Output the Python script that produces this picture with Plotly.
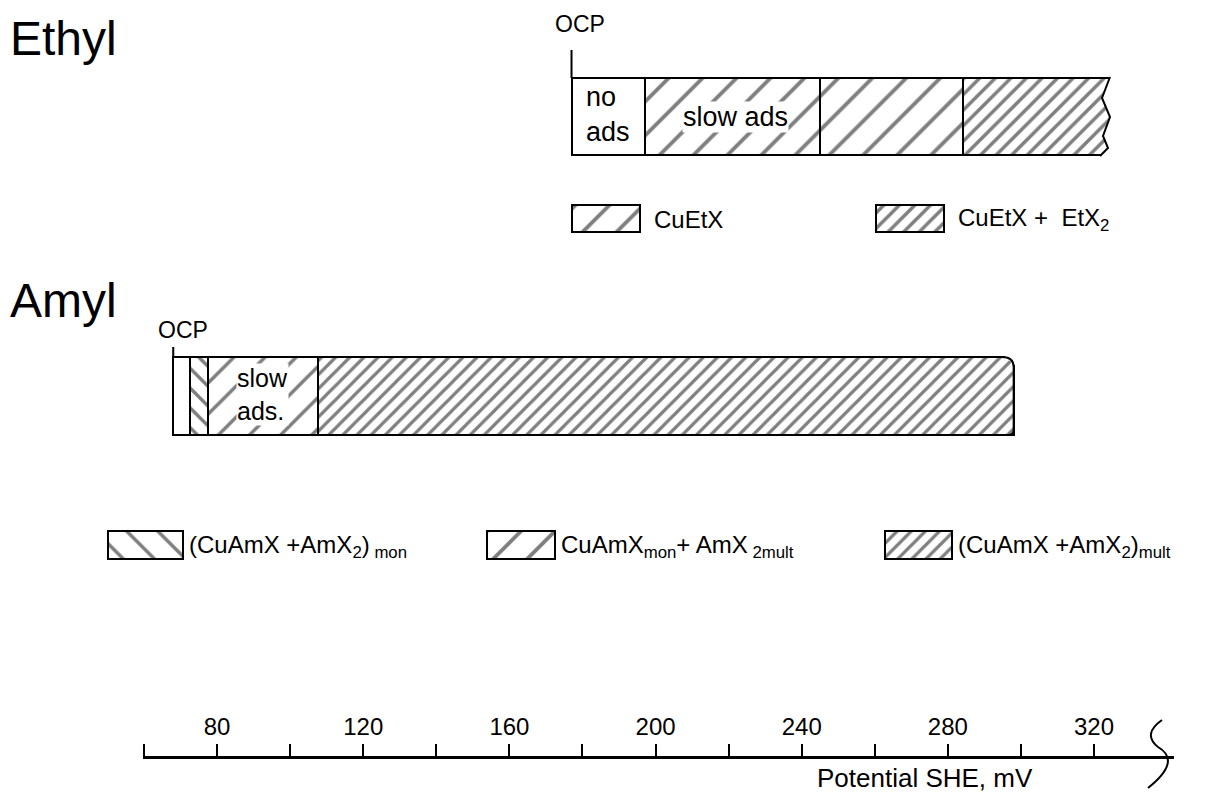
import plotly.graph_objects as go

# ---------------- data (potentials in mV vs SHE) ----------------
ethyl_labels = ["no ads", "slow ads", "CuEtX", "CuEtX + EtX2"]
ethyl_start = [177, 197, 245, 284]
ethyl_end = [197, 245, 284, 326]
ethyl_ocp = 177

amyl_labels = ["OCP", "(CuAmX + AmX2) mon", "slow ads.", "(CuAmX + AmX2) mult"]
amyl_start = [68, 72.5, 77.5, 107.5]
amyl_end = [72.5, 77.5, 107.5, 298]
amyl_ocp = 68

tick_values = [60, 80, 100, 120, 140, 160, 180, 200, 220, 240, 260, 280, 300, 320]
tick_labels = ["", "80", "", "120", "", "160", "", "200", "", "240", "", "280", "", "320"]

ethyl_legend = ["CuEtX", "CuEtX +  EtX<sub>2</sub>"]
amyl_legend = ["(CuAmX +AmX<sub>2</sub>)<sub> mon</sub>",
               "CuAmX<sub>mon</sub>+ AmX<sub> 2mult</sub>",
               "(CuAmX +AmX<sub>2</sub>)<sub>mult</sub>"]

# ---------------- layout helpers (pixel <-> mV) ----------------
W, H = 1206, 793
PX_PER_MV = 3.654
X0_PX, X0_MV = 144, 60
AXIS_Y = 759


def mv(px):
    return X0_MV + (px - X0_PX) / PX_PER_MV


FONT = "Liberation Sans, Arial, sans-serif"
fig = go.Figure()

# ---- Ethyl bar ----
fig.add_trace(go.Bar(
    orientation="h",
    y=[116.5] * len(ethyl_start), width=[77] * len(ethyl_start),
    base=ethyl_start, x=[e - s for s, e in zip(ethyl_start, ethyl_end)],
    marker=dict(color="white", line=dict(color="black", width=2),
                pattern=dict(shape=["", "/", "/", "/"], size=[10, 24, 24, 11],
                             solidity=[0.1, 0.16, 0.16, 0.32],
                             fgcolor="black", bgcolor="white")),
    hovertext=ethyl_labels, showlegend=False))

# ---- Amyl bar ----
fig.add_trace(go.Bar(
    orientation="h",
    y=[396] * len(amyl_start), width=[78] * len(amyl_start),
    base=amyl_start, x=[e - s for s, e in zip(amyl_start, amyl_end)],
    marker=dict(color="white", line=dict(color="black", width=2),
                pattern=dict(shape=["", "\\", "/", "/"], size=[10, 14, 22, 10],
                             solidity=[0.1, 0.24, 0.16, 0.32],
                             fgcolor="black", bgcolor="white")),
    hovertext=amyl_labels, showlegend=False))

# ---- Legend swatches ----
eth_sw_px = [(572, 640), (876, 944)]
fig.add_trace(go.Bar(
    orientation="h", y=[218.5, 218.5], width=[27, 27],
    base=[mv(a) for a, b in eth_sw_px], x=[mv(b) - mv(a) for a, b in eth_sw_px],
    marker=dict(color="white", line=dict(color="black", width=2),
                pattern=dict(shape=["/", "/"], size=[24, 11], solidity=[0.16, 0.32],
                             fgcolor="black", bgcolor="white")),
    hoverinfo="skip", showlegend=False))

amy_sw_px = [(108, 183), (487, 555), (885, 952)]
fig.add_trace(go.Bar(
    orientation="h", y=[545] * 3, width=[28] * 3,
    base=[mv(a) for a, b in amy_sw_px], x=[mv(b) - mv(a) for a, b in amy_sw_px],
    marker=dict(color="white", line=dict(color="black", width=2),
                pattern=dict(shape=["\\", "/", "/"], size=[22, 24, 10],
                             solidity=[0.16, 0.16, 0.32],
                             fgcolor="black", bgcolor="white")),
    hoverinfo="skip", showlegend=False))

# dummy trace for bottom axis
fig.add_trace(go.Scatter(x=[tick_values[0]], y=[0], xaxis="x2", yaxis="y2",
                         mode="markers", marker=dict(opacity=0), hoverinfo="skip",
                         showlegend=False))

shapes = []
# OCP markers
shapes.append(dict(type="line", x0=ethyl_ocp, x1=ethyl_ocp, y0=50, y1=78,
                   xref="x", yref="y", line=dict(color="black", width=2)))
shapes.append(dict(type="line", x0=amyl_ocp, x1=amyl_ocp, y0=347, y1=357,
                   xref="x", yref="y", line=dict(color="black", width=2)))
# dashed divider between slow ads and CuEtX
shapes.append(dict(type="line", x0=ethyl_end[1], x1=ethyl_end[1], y0=78, y1=155,
                   xref="x", yref="y", line=dict(color="black", width=1.5, dash="dash")))

# broken (jagged) right end of the Ethyl bar
jag = [(1110, 77), (1102, 98), (1110, 117), (1103, 136), (1108, 148), (1100, 156)]
mask = "M " + " L ".join("{:.3f},{}".format(mv(px), py) for px, py in jag)
mask += " L {:.3f},160 L {:.3f},73 Z".format(mv(1130), mv(1130))
shapes.append(dict(type="path", path=mask, xref="x", yref="y",
                   fillcolor="white", line=dict(width=0)))
jline = "M " + " L ".join("{:.3f},{}".format(mv(px), py) for px, py in jag)
shapes.append(dict(type="path", path=jline, xref="x", yref="y",
                   line=dict(color="black", width=2)))

# rounded right end of the Amyl bar
rend = amyl_end[-1]
shapes.append(dict(type="path",
                   path="M {:.3f},354 L {:.3f},354 L {:.3f},368 Z".format(
                       mv(1002), mv(1018), mv(1018)),
                   xref="x", yref="y", fillcolor="white", line=dict(width=0)))
shapes.append(dict(type="path",
                   path="M {:.3f},357 Q {:.3f},357 {:.3f},367 L {:.3f},430 Q {:.3f},435 {:.3f},435".format(
                       mv(1002), rend, rend, rend, rend, mv(1008)),
                   xref="x", yref="y", line=dict(color="black", width=2)))

# axis break squiggle
path = "M {:.3f},{} Q {:.3f},{} {:.3f},{} Q {:.3f},{} {:.3f},{}".format(
    mv(1162), 720, mv(1142), 734, mv(1158), 747,
    mv(1182), 761, mv(1148), 788)
shapes.append(dict(type="path", path=path, xref="x", yref="y",
                   line=dict(color="black", width=2)))

ann = []


def text(x, y, s, size, xanchor="left", yanchor="middle", bg=None, align="left",
         xshift=0):
    d = dict(x=x, y=y, xref="x", yref="y", text=s, showarrow=False,
             xanchor=xanchor, yanchor=yanchor, align=align, xshift=xshift,
             font=dict(family=FONT, size=size, color="black"))
    if bg:
        d["bgcolor"] = bg
        d["borderpad"] = 0
    ann.append(d)


text(mv(8), 38, "Ethyl", 48)
text(mv(8), 300, "Amyl", 48)
text(ethyl_ocp, 24, "OCP", 23, xanchor="center", xshift=8)
text(amyl_ocp, 330, "OCP", 23, xanchor="center", xshift=10)
text((ethyl_start[0] + ethyl_end[0]) / 2, 114, "no<br>ads", 27, xanchor="center")
text(mv(735), 116.5, "slow ads", 27, xanchor="center", bg="white")
text((amyl_start[2] + amyl_end[2]) / 2, 394, "slow<br>ads.", 25, xanchor="center",
     bg="white")

for (a, b), lab in zip(eth_sw_px, ethyl_legend):
    text(mv(b + 12), 219, lab, 24)
for (a, b), lab in zip(amy_sw_px, amyl_legend):
    text(mv(b + 4), 546, lab, 24)

text(mv(925), 778, "Potential SHE, mV", 26, xanchor="center")

fig.update_layout(
    width=W, height=H, margin=dict(l=0, r=0, t=0, b=0),
    paper_bgcolor="white", plot_bgcolor="white",
    barmode="overlay", bargap=0,
    shapes=shapes, annotations=ann,
    xaxis=dict(range=[mv(0), mv(W)], domain=[0, 1], visible=False, fixedrange=True),
    yaxis=dict(range=[H, 0], domain=[0, 1], visible=False, fixedrange=True),
    xaxis2=dict(anchor="y2", side="top", domain=[143 / W, 1174 / W],
                range=[mv(143), mv(1174)], tickvals=tick_values, ticktext=tick_labels,
                ticks="outside", ticklen=12, tickwidth=2, tickcolor="black",
                showline=True, linecolor="black", linewidth=2.5, showgrid=False,
                zeroline=False, tickfont=dict(family=FONT, size=24, color="black"),
                fixedrange=True),
    yaxis2=dict(domain=[0, (H - AXIS_Y) / H], visible=False, range=[0, 1],
                fixedrange=True),
    showlegend=False,
)

fig.write_html("out.html", config={"displayModeBar": False},
               post_script="document.body.style.margin='0px';"
                           "document.body.style.overflow='hidden';")
